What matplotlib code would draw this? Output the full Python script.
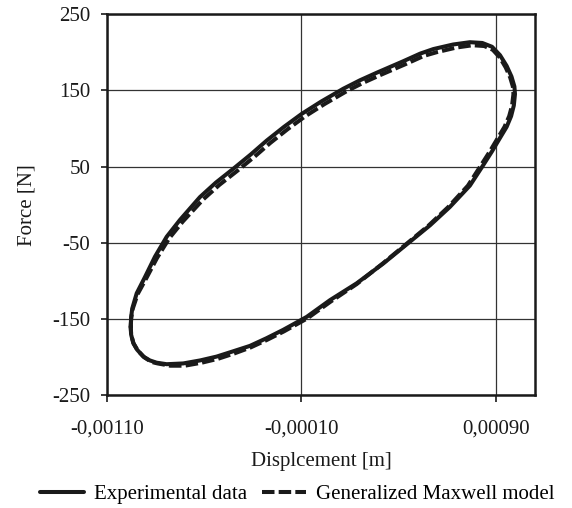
import matplotlib
matplotlib.use("Agg")
import matplotlib.pyplot as plt
from matplotlib.ticker import FixedLocator, FuncFormatter

plt.rcParams['font.family'] = ['Liberation Serif', 'DejaVu Serif']
plt.rcParams['lines.scale_dashes'] = False

# Measured hysteresis loop (displacement in m, force in N)
exp_disp = [-0.000978, -0.000976, -0.000970, -0.000947, -0.000905, -0.000853,
            -0.000793, -0.000725, -0.000622, -0.000540, -0.000451, -0.000360,
            -0.000279, -0.000190, -0.000099, 0.000000, 0.000115, 0.000200,
            0.000287, 0.000423, 0.000510, 0.000578, 0.000680, 0.000766,
            0.000830, 0.000880, 0.000921, 0.000955, 0.000980, 0.000995,
            0.000998, 0.000992, 0.000978, 0.000955, 0.000922, 0.000880,
            0.000835, 0.000766, 0.000663, 0.000561, 0.000441, 0.000321,
            0.000184, 0.000047, -0.000073, -0.000194, -0.000280, -0.000365,
            -0.000450, -0.000536, -0.000620, -0.000708, -0.000793, -0.000845,
            -0.000880, -0.000913, -0.000945, -0.000965, -0.000976, -0.000978]
exp_force = [-160, -148, -136, -116, -95, -68,
             -42, -20, 10, 29, 47, 66,
             84, 102, 119, 135, 152, 163,
             173, 188, 198, 204, 210, 213,
             212, 207, 196, 182, 168, 155,
             145, 130, 116, 102, 88, 70,
             52, 25, -3, -27, -52, -77,
             -103, -125, -147, -164, -175, -185,
             -192, -199, -204, -208, -209, -207,
             -204, -199, -190, -181, -170, -160]

# Generalized Maxwell model response
mod_disp = [-0.000978, -0.000975, -0.000967, -0.000942, -0.000897, -0.000843,
            -0.000780, -0.000710, -0.000605, -0.000522, -0.000432, -0.000341,
            -0.000260, -0.000171, -0.000080, 0.000019, 0.000134, 0.000219,
            0.000306, 0.000442, 0.000529, 0.000597, 0.000697, 0.000780,
            0.000840, 0.000884, 0.000920, 0.000950, 0.000973, 0.000987,
            0.000990, 0.000983, 0.000968, 0.000944, 0.000911, 0.000869,
            0.000824, 0.000756, 0.000655, 0.000555, 0.000437, 0.000318,
            0.000184, 0.000050, -0.000070, -0.000190, -0.000276, -0.000361,
            -0.000446, -0.000530, -0.000612, -0.000700, -0.000775, -0.000840,
            -0.000872, -0.000908, -0.000942, -0.000963, -0.000975, -0.000978]
mod_force = [-160, -148, -136, -117, -96, -70,
             -44, -22, 7, 26, 44, 63,
             81, 99, 116, 132, 149, 160,
             170, 185, 195, 200, 206, 209,
             208, 203, 193, 180, 167, 155,
             145, 130, 116, 102, 88, 70,
             52, 25, -3, -27, -52, -77,
             -104, -127, -149, -166, -177, -187,
             -195, -202, -207, -211, -211, -208,
             -206, -200, -191, -182, -171, -160]

x_ticks = [-0.0011, -0.0001, 0.0009]
y_ticks = [250, 150, 50, -50, -150, -250]

fig = plt.figure(figsize=(5.72, 5.08), dpi=100)
ax = fig.add_axes([0.187, 0.2215, 0.748, 0.751])

ink = '#1a1a1a'
ax.plot(exp_disp, exp_force, color=ink, lw=2.9, solid_joinstyle='round',
        solid_capstyle='round', label='Experimental data', zorder=3)
ax.plot(mod_disp, mod_force, color=ink, lw=2.9, dashes=(9, 3),
        dash_joinstyle='round', label='Generalized Maxwell model', zorder=4)

ax.set_xlim(-0.0011, 0.0011)
ax.set_ylim(-250, 250)
ax.xaxis.set_major_locator(FixedLocator(x_ticks))
ax.yaxis.set_major_locator(FixedLocator(y_ticks))
ax.xaxis.set_major_formatter(FuncFormatter(lambda v, p: f"{v:.5f}".replace('.', ',')))
ax.yaxis.set_major_formatter(FuncFormatter(lambda v, p: f"{v:.0f}"))

ax.grid(True, color='#333333', lw=0.9)
ax.set_axisbelow(True)
for s in ax.spines.values():
    s.set_linewidth(1.8)
    s.set_color('#1a1a1a')

ax.tick_params(axis='y', direction='out', length=4, width=1.2, pad=8,
               labelsize=15, colors='#1a1a1a')
ax.tick_params(axis='x', direction='out', length=5, width=1.2, pad=12,
               labelsize=15, colors='#1a1a1a')

ax.set_xlabel('Displcement [m]', fontsize=15, color='#1a1a1a', labelpad=10)
ax.set_ylabel('Force [N]', fontsize=15, color='#1a1a1a', labelpad=11)

fig.legend(loc='center', bbox_to_anchor=(0.52, 0.027), ncol=2, frameon=False,
           fontsize=15, handlelength=2.1, handletextpad=0.5, columnspacing=0.7,
           borderaxespad=0)

fig.savefig('out.png', dpi=100)
